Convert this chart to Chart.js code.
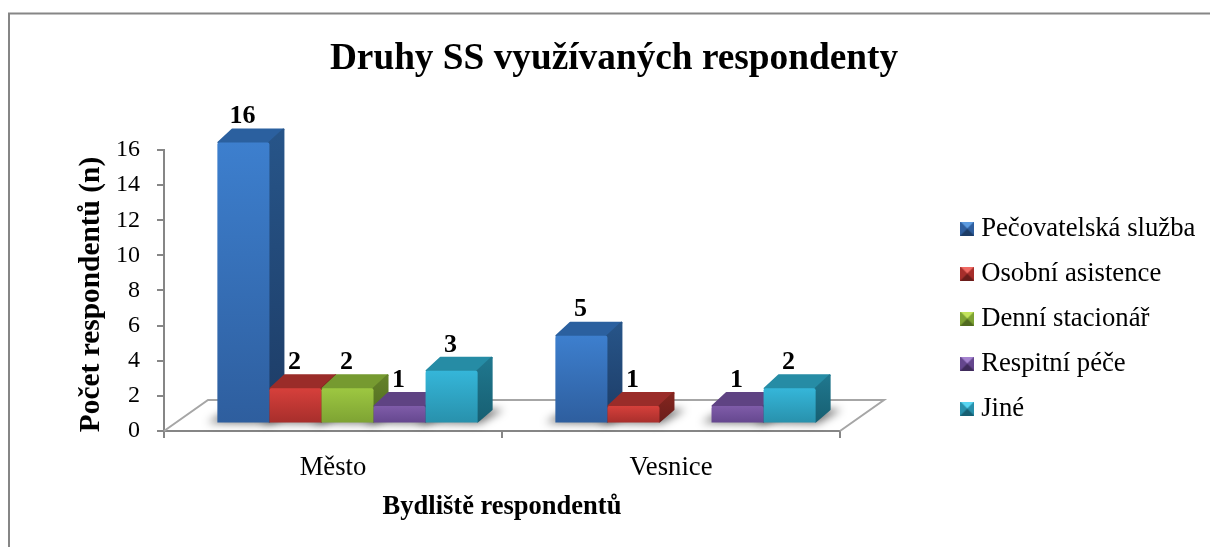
<!DOCTYPE html>
<html lang="cs">
<head>
<meta charset="utf-8">
<title>Druhy SS využívaných respondenty</title>
<script src="https://cdn.jsdelivr.net/npm/chart.js@4"></script>
<style>
html,body{margin:0;padding:0;background:#fff;overflow:hidden}
#wrap{position:relative;width:1210px;height:547px}
</style>
</head>
<body>
<div id="wrap"><canvas id="c" width="1210" height="547"></canvas></div>
<script>
const chartTitle = 'Druhy SS využívaných respondenty';
const xTitle = 'Bydliště respondentů';
const yTitle = 'Počet respondentů (n)';
const categories = ['Město', 'Vesnice'];
const seriesNames = ['Pečovatelská služba', 'Osobní asistence', 'Denní stacionář', 'Respitní péče', 'Jiné'];
const pecovatelska = [16, 5];
const osobni = [2, 1];
const denni = [2, null];
const respitni = [1, 1];
const jine = [3, 2];
const seriesValues = [pecovatelska, osobni, denni, respitni, jine];
// front top, front bottom, roof, side top, side bottom, marker highlight
const palette = [
  ['#3d7fce', '#2e5e9e', '#2b609f', '#275589', '#1d3c66', '#5c9be0'],
  ['#d6403b', '#a62e2b', '#9a2c29', '#85261f', '#6a1d1b', '#f06a64'],
  ['#9dc741', '#7da233', '#769a30', '#648329', '#506a20', '#c3e35c'],
  ['#7f5ca9', '#64468d', '#5f4383', '#503871', '#3f2b5b', '#a583cf'],
  ['#35b6d9', '#2890ab', '#268ca5', '#20788f', '#175f72', '#58d6f2']
];
const serif = '"Liberation Serif", "Times New Roman", serif';
const DX = 14.5, DY = -7.5;         // floor offset of the bars
const BX = 15, BY = -14;            // depth of a bar
const FX = 44, FY = -31;            // depth of the floor
const AXIS = '#868686';

function marker(p) {
  const c = document.createElement('canvas');
  c.width = 14; c.height = 14;
  const g = c.getContext('2d');
  const tri = (col, a, b) => {
    g.fillStyle = col; g.beginPath(); g.moveTo(a[0], a[1]); g.lineTo(b[0], b[1]); g.lineTo(7, 7); g.closePath(); g.fill();
  };
  g.fillStyle = p[1]; g.fillRect(0, 0, 14, 14);
  tri(p[5], [0, 0], [14, 0]);
  tri(p[1], [0, 0], [0, 14]);
  tri(p[1], [14, 0], [14, 14]);
  tri(p[4], [0, 14], [14, 14]);
  return c;
}
const markers = palette.map(marker);

function faces(ctx, el, p) {
  const {x, y, base, width} = el.getProps(['x', 'y', 'base', 'width'], true);
  const l = x - width / 2, r = x + width / 2;
  // roof
  ctx.fillStyle = p[2];
  ctx.strokeStyle = p[2];
  ctx.lineWidth = 2;
  ctx.lineJoin = 'round';
  ctx.beginPath();
  ctx.moveTo(l + 1, y); ctx.lineTo(l + BX, y + BY + 1); ctx.lineTo(r + BX - 1, y + BY + 1); ctx.lineTo(r, y); ctx.closePath();
  ctx.fill();
  ctx.stroke();
  // side
  const g = ctx.createLinearGradient(0, y + BY, 0, base);
  g.addColorStop(0, p[3]); g.addColorStop(1, p[4]);
  ctx.fillStyle = g;
  ctx.strokeStyle = g;
  ctx.beginPath();
  ctx.moveTo(r, y); ctx.lineTo(r + BX - 1, y + BY + 1); ctx.lineTo(r + BX - 1, base + BY + 1); ctx.lineTo(r, base - 1); ctx.closePath();
  ctx.fill();
  ctx.stroke();
}

const scene = {
  id: 'scene',
  beforeLayout(chart) {
    const lg = chart.legend;
    if (lg && !lg._wrapped) {
      const f = lg.fit;
      lg.fit = function () { f.call(this); this.width = 370; };
      lg._wrapped = true;
    }
  },
  afterLayout(chart) {
    chart.titleBlock.left = 18;
    const lg = chart.legend;
    lg.left = 948.5; lg.right = 1210; lg.top = 197; lg.bottom = 547;
  },
  beforeDraw(chart) {
    const ctx = chart.ctx;
    ctx.save();
    ctx.strokeStyle = AXIS; ctx.lineWidth = 2;
    ctx.beginPath(); ctx.moveTo(9, 547); ctx.lineTo(9, 13.5); ctx.lineTo(1210, 13.5); ctx.stroke();
    ctx.restore();
  },
  beforeDatasetsDraw(chart) {
    const ctx = chart.ctx, {x: xs, y: ys} = chart.scales;
    const b = ys.getPixelForValue(0);
    ctx.save();
    ctx.strokeStyle = '#a6a6a6'; ctx.lineWidth = 2;
    ctx.beginPath();
    ctx.moveTo(xs.left, b); ctx.lineTo(xs.left + FX, b + FY); ctx.lineTo(xs.right + FX, b + FY); ctx.lineTo(xs.right, b);
    ctx.stroke();
    ctx.restore();
  },
  beforeDatasetDraw() { return false; },
  afterDatasetsDraw(chart) {
    const ctx = chart.ctx;
    const metas = seriesNames.map((_, i) => chart.getDatasetMeta(i));
    ctx.save();
    ctx.translate(DX, DY);
    // soft shadows on the floor
    ctx.save();
    ctx.filter = 'blur(4px)';
    ctx.fillStyle = 'rgba(0,0,0,0.55)';
    metas.forEach((m, i) => m.data.forEach((el, j) => {
      if (seriesValues[i][j] == null) return;
      const {x, width, base} = el.getProps(['x', 'width', 'base'], true);
      const l = x - width / 2, r = x + width / 2;
      ctx.beginPath();
      ctx.moveTo(l - 10, base); ctx.lineTo(r + 2, base + 1); ctx.lineTo(r + BX + 11, base + BY + 1);
      ctx.lineTo(l + BX, base + BY); ctx.closePath();
      ctx.fill();
    }));
    ctx.restore();
    metas.forEach((m, i) => {
      m.data.forEach((el, j) => {
        if (seriesValues[i][j] != null) faces(ctx, el, palette[i]);
      });
      m.controller.draw();
    });
    // value labels
    ctx.fillStyle = '#000';
    ctx.font = 'bold 26px ' + serif;
    ctx.textAlign = 'center';
    ctx.textBaseline = 'middle';
    metas.forEach((m, i) => m.data.forEach((el, j) => {
      const v = seriesValues[i][j];
      if (v == null) return;
      const {x, y} = el.getProps(['x', 'y'], true);
      ctx.fillText(String(v), x - 1, y - 26);
    }));
    ctx.restore();
  }
};

new Chart(document.getElementById('c'), {
  type: 'bar',
  plugins: [scene],
  data: {
    labels: categories,
    datasets: seriesNames.map((name, i) => ({
      label: name,
      data: seriesValues[i],
      categoryPercentage: 0.77,
      barPercentage: 1,
      borderRadius: 2,
      backgroundColor(c) {
        const p = palette[i];
        if (c.type !== 'data' || !c.chart.chartArea || !c.parsed) return p[0];
        const s = c.chart.scales.y;
        const top = s.getPixelForValue(c.parsed.y), bottom = s.getPixelForValue(0);
        if (!isFinite(top) || !isFinite(bottom)) return p[0];
        const g = c.chart.ctx.createLinearGradient(0, top, 0, bottom);
        g.addColorStop(0, p[0]); g.addColorStop(1, p[1]);
        return g;
      }
    }))
  },
  options: {
    responsive: false,
    animation: false,
    layout: {autoPadding: false, padding: 0},
    plugins: {
      tooltip: {enabled: false},
      title: {
        display: true,
        text: chartTitle,
        color: '#000',
        font: {family: serif, size: 37.3, weight: 'bold', lineHeight: 1.2},
        padding: {top: 37, bottom: 68.2}
      },
      legend: {
        position: 'right',
        align: 'start',
        labels: {
          font: {family: serif, size: 26.7},
          color: '#000',
          usePointStyle: true,
          pointStyleWidth: 1,
          boxHeight: 14,
          padding: 18.3,
          generateLabels() {
            return seriesNames.map((n, i) => ({text: n, pointStyle: markers[i], datasetIndex: i, lineWidth: 0, fontColor: '#000'}));
          }
        }
      }
    },
    scales: {
      x: {
        afterFit(s) { s.height = 116; },
        border: {display: true, color: AXIS, width: 2},
        grid: {display: true, drawOnChartArea: false, drawTicks: true, tickLength: 7, color: AXIS, lineWidth: 2},
        ticks: {color: '#000', font: {family: serif, size: 26.7}, padding: 14, maxRotation: 0},
        title: {display: true, text: xTitle, color: '#000', font: {family: serif, size: 26.5, weight: 'bold', lineHeight: 1.2}, padding: {top: 0, bottom: 24}}
      },
      y: {
        min: 0, max: 16,
        afterFit(s) {
          s.width = 164;
          if (!s._shifted) {
            const d = s.drawTitle;
            s.drawTitle = function () {
              const ctx = this.ctx;
              ctx.save(); ctx.translate(0, 4); d.call(this); ctx.restore();
            };
            s._shifted = true;
          }
        },
        border: {display: true, color: AXIS, width: 2},
        grid: {display: true, drawOnChartArea: false, drawTicks: true, tickLength: 7, color: AXIS, lineWidth: 2},
        ticks: {stepSize: 2, color: '#000', font: {family: serif, size: 24}, padding: 17},
        title: {display: true, text: yTitle, color: '#000', font: {family: serif, size: 29.4, weight: 'bold', lineHeight: 1.2}, padding: {top: 74, bottom: 0}}
      }
    }
  }
});
</script>
</body>
</html>
